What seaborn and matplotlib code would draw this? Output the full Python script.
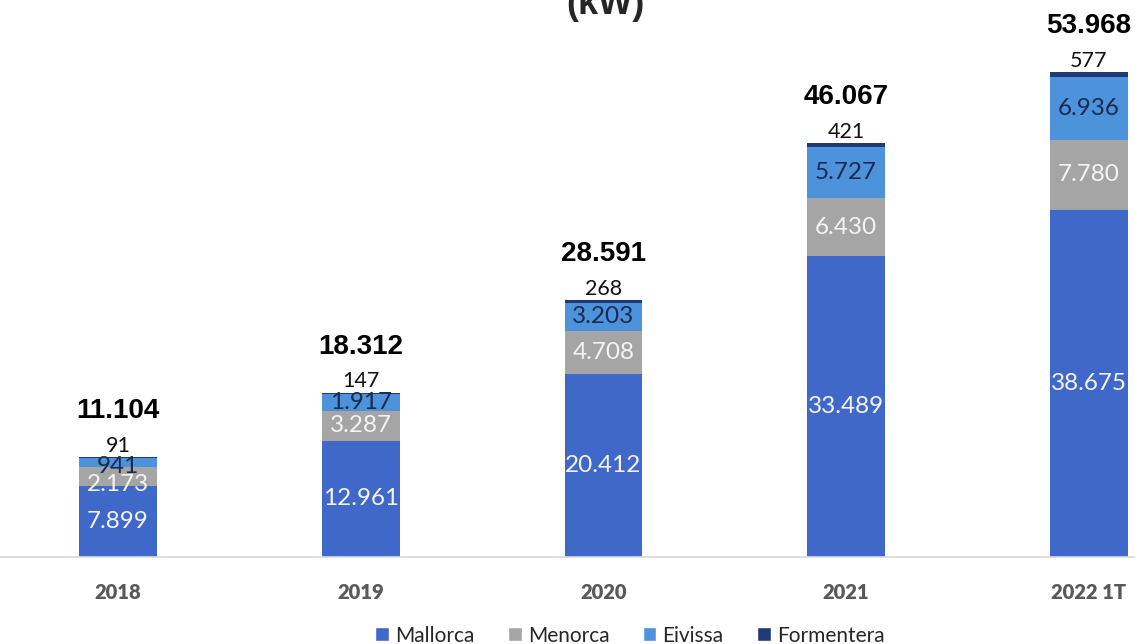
import numpy as np
import pandas as pd
import seaborn as sns
from matplotlib import pyplot as plt
from matplotlib.patches import Patch

years = ['2018', '2019', '2020', '2021', '2022 1T']
mallorca = [7899, 12961, 20412, 33489, 38675]
menorca = [2173, 3287, 4708, 6430, 7780]
eivissa = [941, 1917, 3203, 5727, 6936]
formentera = [91, 147, 268, 421, 577]
totals = [11104, 18312, 28591, 46067, 53968]

series = ['Mallorca', 'Menorca', 'Eivissa', 'Formentera']
colors = ['#3F68C8', '#A5A5A5', '#4C93DB', '#1F3A78']

def fmt(v):
    return f"{v:,}".replace(',', '.')

df = pd.DataFrame({'year': years, 'Mallorca': mallorca, 'Menorca': menorca,
                   'Eivissa': eivissa, 'Formentera': formentera})
cum = df[series].cumsum(axis=1)

sns.set_style('white')
plt.rcParams['font.family'] = ['Lato', 'DejaVu Sans']

fig = plt.figure(figsize=(11.35, 6.44), dpi=100)
ax = fig.add_axes([0, 0.135, 1, 0.865])

# stacked bars by overdrawing cumulative heights, tallest first
for s, c in zip(series[::-1], colors[::-1]):
    sns.barplot(x=df['year'], y=cum[s], color=c, width=0.32, ax=ax,
                saturation=1, edgecolor='none')

# small nudges for the cramped 2018 bar, as in the original
nudge = {(0, 'Menorca'): -6, (0, 'Eivissa'): -3}

for i in range(len(years)):
    bottom = 0
    for s, txt_col in zip(series[:3], ['#F4F4F4', '#F4F4F4', '#1A2A50']):
        v = df[s][i]
        ax.annotate(fmt(v), (i, bottom + v / 2), xytext=(0, nudge.get((i, s), 0)),
                    textcoords='offset points', ha='center', va='center',
                    color=txt_col, fontsize=17.5)
        bottom += v
    top = cum['Formentera'][i]
    ax.annotate(fmt(formentera[i]), (i, top), xytext=(0, 8), textcoords='offset points',
                ha='center', va='center', fontsize=15.5, color='#111111')
    ax.annotate(fmt(totals[i]), (i, top), xytext=(0, 33), textcoords='offset points',
                ha='center', va='center', fontsize=20, fontweight='bold',
                color='black', family='Liberation Sans')

ax.set_ylim(0, 62000)
ax.set_xlim(-0.486, 4.19)
ax.set_xlabel('')
ax.set_ylabel('')
ax.set_yticks([])
for sp in ['top', 'left', 'right']:
    ax.spines[sp].set_visible(False)
ax.spines['bottom'].set_color('#D9D9D9')
ax.spines['bottom'].set_linewidth(1.2)
ax.tick_params(axis='x', length=0, pad=19, labelsize=14.5, labelcolor='#595959')
for lbl in ax.get_xticklabels():
    lbl.set_fontweight('heavy')

fig.text(0.533, 1 - 14 / 644, '(kW)', ha='center', va='baseline', fontsize=26,
         fontweight='bold', family='Liberation Sans')

handles = [Patch(facecolor=c, label=s) for s, c in zip(series, colors)]
fig.legend(handles=handles, loc='center', bbox_to_anchor=(0.555, 0.013), ncol=4,
           frameon=False, fontsize=15, handlelength=0.65, handleheight=0.65,
           handletextpad=0.3, columnspacing=1.6)

fig.savefig('out.png', dpi=100)
